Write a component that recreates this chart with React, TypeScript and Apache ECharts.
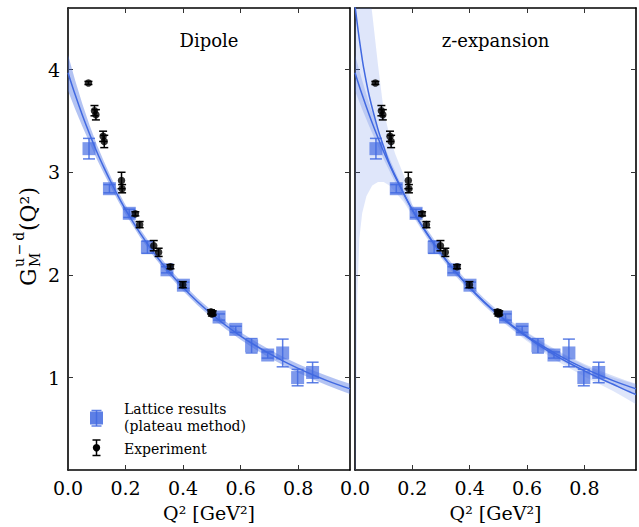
import { useEffect, useRef } from "react";
import * as echarts from "echarts";

// ---------- data ----------
const X_TICKS = [0, 0.2, 0.4, 0.6, 0.8];
const Y_TICKS = [1, 2, 3, 4];

// Dipole fit curve and its error band
const DIPOLE_Q2 = [0, 0.025, 0.05, 0.075, 0.1, 0.125, 0.15, 0.175, 0.2, 0.25, 0.3, 0.35, 0.4, 0.45, 0.5, 0.55, 0.6, 0.65, 0.7, 0.75, 0.8, 0.85, 0.9, 0.94, 0.98];
const DIPOLE_FIT = [3.97, 3.754, 3.555, 3.372, 3.2, 3.045, 2.9, 2.763, 2.637, 2.41, 2.21, 2.033, 1.878, 1.739, 1.616, 1.505, 1.405, 1.315, 1.233, 1.158, 1.09, 1.028, 0.971, 0.929, 0.89];
const DIPOLE_LO = [3.795, 3.614, 3.445, 3.287, 3.13, 2.985, 2.85, 2.715, 2.592, 2.37, 2.172, 1.997, 1.843, 1.704, 1.581, 1.469, 1.368, 1.277, 1.193, 1.117, 1.048, 0.984, 0.925, 0.881, 0.84];
const DIPOLE_HI = [4.145, 3.894, 3.665, 3.457, 3.27, 3.105, 2.95, 2.811, 2.682, 2.45, 2.248, 2.069, 1.913, 1.774, 1.651, 1.541, 1.442, 1.353, 1.273, 1.199, 1.132, 1.072, 1.017, 0.977, 0.94];

// z-expansion fit curve and its error band
const ZEXP_Q2 = [0, 0.01, 0.02, 0.03, 0.05, 0.08, 0.1, 0.12, 0.15, 0.2, 0.25, 0.3, 0.35, 0.4, 0.45, 0.5, 0.55, 0.6, 0.65, 0.7, 0.75, 0.8, 0.85, 0.9, 0.94, 0.98];
const ZEXP_FIT = [4.62, 4.4, 4.2, 4.02, 3.74, 3.42, 3.25, 3.09, 2.91, 2.63, 2.405, 2.205, 2.03, 1.875, 1.735, 1.61, 1.497, 1.395, 1.3, 1.215, 1.137, 1.065, 0.998, 0.935, 0.883, 0.835];
const ZEXP_BAND_Q2 = [0, 0.004, 0.008, 0.015, 0.025, 0.04, 0.06, 0.08, 0.1, 0.12, 0.14, 0.17, 0.2, 0.25, 0.3, 0.35, 0.4, 0.45, 0.5, 0.55, 0.6, 0.65, 0.7, 0.75, 0.8, 0.85, 0.9, 0.94, 0.98];
const ZEXP_LO = [-3.0, 0.6, 1.8, 2.35, 2.6, 2.77, 2.87, 2.905, 2.905, 2.87, 2.81, 2.71, 2.58, 2.36, 2.165, 1.99, 1.84, 1.7, 1.575, 1.462, 1.355, 1.26, 1.17, 1.088, 1.01, 0.94, 0.87, 0.805, 0.74];
const ZEXP_HI = [6.0, 5.85, 5.7, 5.48, 5.25, 4.95, 4.55, 4.05, 3.6, 3.36, 3.18, 2.97, 2.68, 2.45, 2.245, 2.07, 1.91, 1.77, 1.645, 1.535, 1.435, 1.345, 1.26, 1.188, 1.12, 1.058, 1.0, 0.968, 0.935];

// Lattice results (plateau method)
const LAT_Q2 = [0.073, 0.144, 0.213, 0.276, 0.344, 0.401, 0.525, 0.583, 0.638, 0.694, 0.746, 0.798, 0.85];
const LAT_G = [3.23, 2.84, 2.6, 2.27, 2.05, 1.9, 1.59, 1.47, 1.31, 1.22, 1.24, 1.0, 1.05];
const LAT_ERR = [0.1, 0.04, 0.04, 0.06, 0.03, 0.03, 0.03, 0.03, 0.07, 0.03, 0.135, 0.08, 0.1];

// Experiment
const EXP_Q2 = [0.071, 0.092, 0.097, 0.122, 0.126, 0.186, 0.188, 0.234, 0.249, 0.298, 0.315, 0.356, 0.399, 0.497, 0.5, 0.503];
const EXP_G = [3.87, 3.6, 3.56, 3.35, 3.3, 2.92, 2.84, 2.595, 2.49, 2.285, 2.22, 2.08, 1.905, 1.64, 1.62, 1.63];
const EXP_ERR = [0.015, 0.05, 0.05, 0.05, 0.06, 0.08, 0.04, 0.02, 0.03, 0.05, 0.04, 0.02, 0.03, 0.02, 0.02, 0.02];

const PANEL_TITLES = ["Dipole", "z-expansion"];
const X_NAME = "Q² [GeV²]";
const LEGEND_LATTICE = ["Lattice results", "(plateau method)"];
const LEGEND_EXP = "Experiment";

// ---------- styling ----------
const FONT = "DejaVu Serif";
const BLUE = "#4169e1";
const SQ_FILL = "rgba(65,105,225,0.85)";
const X_MIN = 0;
const X_MAX = 0.98;
const Y_MIN = 0.1;
const Y_MAX = 4.6;

const zip2 = (a: number[], b: number[]) => a.map((x, i) => [x, b[i]]);

function bandSeries(idx: number, q: number[], lo: number[], hi: number[], fill: string, z: number) {
  return {
    type: "custom",
    xAxisIndex: idx,
    yAxisIndex: idx,
    z,
    clip: true,
    silent: true,
    data: q.map((x, i) => [x, lo[i], hi[i]]),
    renderItem: (params: any, api: any) => {
      if (params.dataIndex !== 0) return null;
      const pts: number[][] = [];
      for (let i = 0; i < q.length; i++) pts.push(api.coord([q[i], hi[i]]));
      for (let i = q.length - 1; i >= 0; i--) pts.push(api.coord([q[i], lo[i]]));
      return { type: "polygon", shape: { points: pts }, style: { fill } };
    },
  };
}

function lineSeries(idx: number, q: number[], v: number[], z: number) {
  return {
    type: "line",
    xAxisIndex: idx,
    yAxisIndex: idx,
    z,
    data: zip2(q, v),
    symbol: "none",
    showSymbol: false,
    smooth: 0.35,
    clip: true,
    silent: true,
    lineStyle: { color: BLUE, width: 1.5 },
  };
}

function errorBarSeries(idx: number, q: number[], g: number[], e: number[], color: string, cap: number, z: number) {
  return {
    type: "custom",
    xAxisIndex: idx,
    yAxisIndex: idx,
    z,
    silent: true,
    data: q.map((x, i) => [x, g[i] - e[i], g[i] + e[i]]),
    renderItem: (_p: any, api: any) => {
      const lo = api.coord([api.value(0), api.value(1)]);
      const hi = api.coord([api.value(0), api.value(2)]);
      const style = { stroke: color, lineWidth: 1.5 };
      return {
        type: "group",
        children: [
          { type: "line", shape: { x1: lo[0], y1: lo[1], x2: hi[0], y2: hi[1] }, style },
          { type: "line", shape: { x1: lo[0] - cap, y1: lo[1], x2: lo[0] + cap, y2: lo[1] }, style },
          { type: "line", shape: { x1: hi[0] - cap, y1: hi[1], x2: hi[0] + cap, y2: hi[1] }, style },
        ],
      };
    },
  };
}

function scatterSeries(idx: number, q: number[], g: number[], symbol: string, size: number, color: string, z: number) {
  return {
    type: "scatter",
    xAxisIndex: idx,
    yAxisIndex: idx,
    z,
    silent: true,
    data: zip2(q, g),
    symbol,
    symbolSize: size,
    itemStyle: { color },
  };
}

function xAxis(gridIndex: number, position: string, labels: boolean) {
  return {
    type: "value",
    gridIndex,
    position,
    min: X_MIN,
    max: X_MAX,
    name: labels ? X_NAME : "",
    nameLocation: "middle",
    nameGap: 33,
    nameTextStyle: { fontFamily: FONT, fontSize: 19, color: "#000" },
    splitLine: { show: false },
    axisLine: { show: true, onZero: false, lineStyle: { color: "#000", width: 1.6 } },
    axisTick: { show: true, inside: true, length: 5, customValues: X_TICKS, lineStyle: { color: "#333", width: 1 } },
    axisLabel: {
      show: labels,
      customValues: X_TICKS,
      formatter: (v: number) => v.toFixed(1),
      fontFamily: FONT,
      fontSize: 19,
      color: "#000",
      margin: 8,
    },
  };
}

function yAxis(gridIndex: number, position: string, labels: boolean) {
  return {
    type: "value",
    gridIndex,
    position,
    min: Y_MIN,
    max: Y_MAX,
    splitLine: { show: false },
    axisLine: { show: true, onZero: false, lineStyle: { color: "#000", width: 1.6 } },
    axisTick: { show: true, inside: true, length: 5, customValues: Y_TICKS, lineStyle: { color: "#333", width: 1 } },
    axisLabel: {
      show: labels,
      customValues: Y_TICKS,
      formatter: (v: number) => String(v),
      fontFamily: FONT,
      fontSize: 19,
      color: "#000",
      margin: 8,
    },
  };
}

export default function App() {
  const ref = useRef<HTMLDivElement>(null);
  useEffect(() => {
    if (!ref.current) return;
    const chart = echarts.init(ref.current, null, { renderer: "svg" });
    const series: any[] = [];
    for (const idx of [0, 2]) {
      if (idx === 2) series.push(bandSeries(idx, ZEXP_BAND_Q2, ZEXP_LO, ZEXP_HI, "rgba(65,105,225,0.17)", 1));
      series.push(bandSeries(idx, DIPOLE_Q2, DIPOLE_LO, DIPOLE_HI, idx === 0 ? "rgba(65,105,225,0.4)" : "rgba(65,105,225,0.22)", 2));
      series.push(lineSeries(idx, DIPOLE_Q2, DIPOLE_FIT, 3));
      if (idx === 2) series.push(lineSeries(idx, ZEXP_Q2, ZEXP_FIT, 3));
      series.push(errorBarSeries(idx, LAT_Q2, LAT_G, LAT_ERR, SQ_FILL, 6, 4));
      series.push(scatterSeries(idx, LAT_Q2, LAT_G, "rect", 13, SQ_FILL, 5));
      series.push(errorBarSeries(idx, EXP_Q2, EXP_G, EXP_ERR, "#000", 4, 6));
      series.push(scatterSeries(idx, EXP_Q2, EXP_G, "circle", 7.5, "#000", 7));
    }

    const t = (text: string, x: number, y: number, size: number, align = "left", extra: any = {}) => ({
      type: "text",
      x,
      y,
      silent: true,
      style: { text, fontFamily: FONT, fontSize: size, fill: "#000", align, verticalAlign: "middle", ...extra },
    });

    const graphic: any[] = [
      t(PANEL_TITLES[0], 209, 40, 18, "center"),
      t(PANEL_TITLES[1], 495.5, 40, 18, "center"),
      // y-axis label, rotated
      {
        type: "group",
        x: 28,
        y: 286,
        rotation: Math.PI / 2,
        children: [
          t("G", 0, 0, 22),
          t("M", 19, 7, 14),
          t("u\u2009−\u2009d", 19, -9, 14),
          t("(Q²)", 55, 0, 22),
        ],
      },
      // legend: lattice
      { type: "line", shape: { x1: 96.5, y1: 410.5, x2: 96.5, y2: 426 }, style: { stroke: SQ_FILL, lineWidth: 1.5 } },
      { type: "line", shape: { x1: 91.5, y1: 410.5, x2: 101.5, y2: 410.5 }, style: { stroke: SQ_FILL, lineWidth: 1.5 } },
      { type: "line", shape: { x1: 91.5, y1: 426, x2: 101.5, y2: 426 }, style: { stroke: SQ_FILL, lineWidth: 1.5 } },
      { type: "rect", shape: { x: 90, y: 411.5, width: 13, height: 13 }, style: { fill: SQ_FILL } },
      t(LEGEND_LATTICE[0], 124, 408.5, 14),
      t(LEGEND_LATTICE[1], 124, 425.5, 14),
      // legend: experiment
      { type: "line", shape: { x1: 96.5, y1: 440, x2: 96.5, y2: 455.5 }, style: { stroke: "#000", lineWidth: 1.5 } },
      { type: "line", shape: { x1: 92.5, y1: 440, x2: 100.5, y2: 440 }, style: { stroke: "#000", lineWidth: 1.5 } },
      { type: "line", shape: { x1: 92.5, y1: 455.5, x2: 100.5, y2: 455.5 }, style: { stroke: "#000", lineWidth: 1.5 } },
      { type: "circle", shape: { cx: 96.5, cy: 447.7, r: 3.7 }, style: { fill: "#000" } },
      t(LEGEND_EXP, 124, 448.5, 14),
    ];

    chart.setOption({
      animation: false,
      backgroundColor: "#fff",
      grid: [
        { left: 68, top: 8, width: 282, height: 462 },
        { left: 355, top: 8, width: 281, height: 462 },
      ],
      xAxis: [xAxis(0, "bottom", true), xAxis(0, "top", false), xAxis(1, "bottom", true), xAxis(1, "top", false)],
      yAxis: [yAxis(0, "left", true), yAxis(0, "right", false), yAxis(1, "left", false), yAxis(1, "right", false)],
      series,
      graphic,
    });
    return () => chart.dispose();
  }, []);
  return <div ref={ref} style={{ position: "fixed", left: 0, top: 0, width: 639, height: 527, background: "#fff" }} />;
}
